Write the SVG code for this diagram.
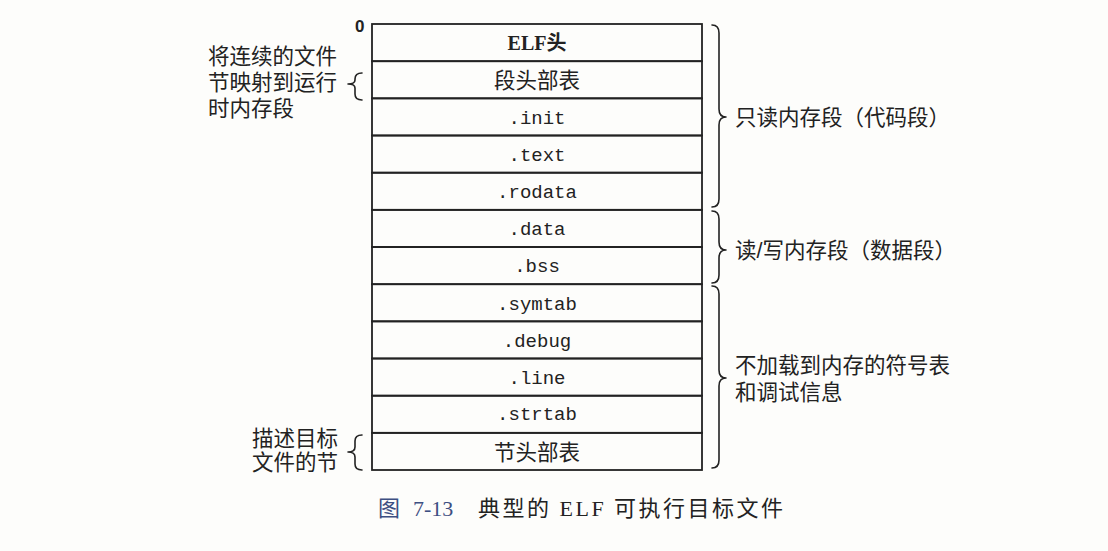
<svg xmlns="http://www.w3.org/2000/svg" width="1108" height="551" viewBox="0 0 1108 551">
  <style>
    .bg { fill: #fdfdfb; }
    .cell { fill: none; stroke: #222; stroke-width: 1.8; }
    .brace { fill: none; stroke: #222; stroke-width: 1.6; stroke-linejoin: round; stroke-linecap: round; }
    .mono { font-family: "Liberation Mono", "DejaVu Sans Mono", monospace; font-size: 19px; fill: #222; text-anchor: middle; }
    .cjk { font-family: "Liberation Sans", "Noto Sans CJK SC", sans-serif; font-size: 21.5px; fill: #222; }
    .cellcjk { font-family: "Liberation Sans", "Noto Sans CJK SC", sans-serif; font-size: 21.5px; fill: #222; text-anchor: middle; }
    .elf { font-family: "Liberation Serif", "Noto Sans CJK SC", serif; font-size: 20px; font-weight: bold; fill: #222; text-anchor: middle; }
    .zero { font-family: "Liberation Sans", sans-serif; font-size: 17px; font-weight: bold; fill: #222; }
    .cap { font-family: "Liberation Serif", "Noto Sans CJK SC", serif; font-size: 22px; fill: #222; }
    .capnum { fill: #3d4f82; }
    .captitle { letter-spacing: 2.5px; }
  </style>
  <rect class="bg" x="0" y="0" width="1108" height="551"/>

  <text class="zero" x="355" y="32">0</text>

  <!-- ELF executable layout: 12 stacked sections -->
  <g id="sections">
    <g id="elf-header"><rect class="cell" x="372" y="24" width="330" height="37.2"/><text class="elf" x="537" y="50">ELF头</text></g>
    <g id="segment-header-table"><rect class="cell" x="372" y="61.2" width="330" height="37.2"/><text class="cellcjk" x="537" y="88">段头部表</text></g>
    <g id="init"><rect class="cell" x="372" y="98.3" width="330" height="37.2"/><text class="mono" x="537" y="124">.init</text></g>
    <g id="text"><rect class="cell" x="372" y="135.5" width="330" height="37.2"/><text class="mono" x="537" y="161">.text</text></g>
    <g id="rodata"><rect class="cell" x="372" y="172.7" width="330" height="37.2"/><text class="mono" x="537" y="198">.rodata</text></g>
    <g id="data"><rect class="cell" x="372" y="209.8" width="330" height="37.2"/><text class="mono" x="537" y="235">.data</text></g>
    <g id="bss"><rect class="cell" x="372" y="247" width="330" height="37.2"/><text class="mono" x="537" y="272">.bss</text></g>
    <g id="symtab"><rect class="cell" x="372" y="284.2" width="330" height="37.2"/><text class="mono" x="537" y="310">.symtab</text></g>
    <g id="debug"><rect class="cell" x="372" y="321.3" width="330" height="37.2"/><text class="mono" x="537" y="347">.debug</text></g>
    <g id="line"><rect class="cell" x="372" y="358.5" width="330" height="37.2"/><text class="mono" x="537" y="384">.line</text></g>
    <g id="strtab"><rect class="cell" x="372" y="395.7" width="330" height="37.2"/><text class="mono" x="537" y="420">.strtab</text></g>
    <g id="section-header-table"><rect class="cell" x="372" y="432.8" width="330" height="37.2"/><text class="cellcjk" x="537" y="460">节头部表</text></g>
  </g>

  <!-- braces grouping the sections -->
  <g id="braces">
    <path class="brace" d="M712,25 Q719,25 719,33 L719,109 Q719,117 726,117 Q719,117 719,125 L719,199 Q719,207 712,207"/>
    <path class="brace" d="M712,211 Q719,211 719,219 L719,242 Q719,250 726,250 Q719,250 719,258 L719,275 Q719,283 712,283"/>
    <path class="brace" d="M712,286 Q719,286 719,294 L719,370 Q719,378 726,378 Q719,378 719,386 L719,460 Q719,468 712,468"/>
    <path class="brace" d="M362,73 Q355,73 355,79 L355,80 Q355,84 348,84 Q355,84 355,88 L355,94 Q355,100 362,100"/>
    <path class="brace" d="M362,435 Q355,435 355,441 L355,447 Q355,452 348,452 Q355,452 355,457 L355,464 Q355,470 362,470"/>
  </g>

  <g id="labels">
    <text class="cjk" x="208" y="64">将连续的文件</text>
    <text class="cjk" x="208" y="90">节映射到运行</text>
    <text class="cjk" x="208" y="116">时内存段</text>
    <text class="cjk" x="252" y="446">描述目标</text>
    <text class="cjk" x="252" y="470">文件的节</text>
    <text class="cjk" x="735" y="125">只读内存段（代码段）</text>
    <text class="cjk" x="735" y="258">读/写内存段（数据段）</text>
    <text class="cjk" x="735" y="373">不加载到内存的符号表</text>
    <text class="cjk" x="735" y="400">和调试信息</text>
  </g>

  <text class="cap" x="378" y="516"><tspan class="capnum">图</tspan><tspan class="capnum" x="413">7-13</tspan><tspan class="captitle" x="478">典型的 ELF 可执行目标文件</tspan></text>
</svg>
